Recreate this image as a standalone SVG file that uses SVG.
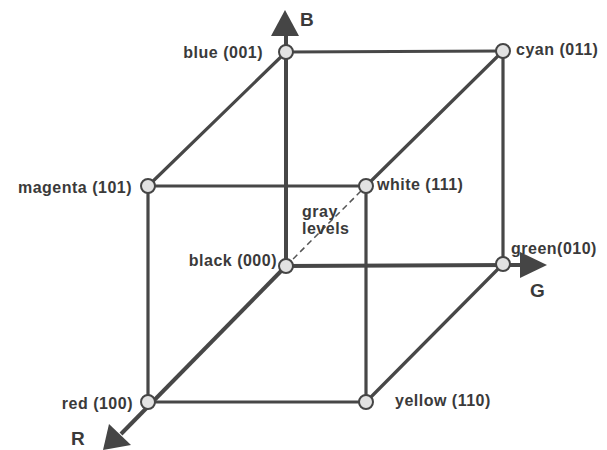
<svg xmlns="http://www.w3.org/2000/svg" width="607" height="450" viewBox="0 0 607 450">
<style>
.edge{stroke:#474747;stroke-width:3.2;fill:none;stroke-linecap:round}
.axis{stroke:#474747;stroke-width:4;fill:none}
.dash{stroke:#555;stroke-width:1.5;stroke-dasharray:6,4;fill:none}
.node circle{fill:#e2e2e2;stroke:#454545;stroke-width:2}
.lbl{font-family:"Liberation Sans",Arial,sans-serif;font-weight:bold;font-size:16px;fill:#3a3a3a;letter-spacing:0.5px}
.ax{font-family:"Liberation Sans",Arial,sans-serif;font-weight:bold;font-size:19px;fill:#3a3a3a}
.head{fill:#454545}
</style>
<rect width="607" height="450" fill="#ffffff"/>
<g id="connectors">
<line class="edge" x1="286" y1="52" x2="503" y2="51"/>
<line class="edge" x1="286" y1="52" x2="148" y2="186"/>
<line class="edge" x1="503" y1="51" x2="366" y2="186"/>
<line class="edge" x1="503" y1="51" x2="503" y2="264"/>
<line class="edge" x1="148" y1="186" x2="366" y2="186"/>
<line class="edge" x1="148" y1="186" x2="148" y2="402"/>
<line class="edge" x1="366" y1="186" x2="366" y2="402"/>
<line class="edge" x1="503" y1="264" x2="366" y2="402"/>
<line class="edge" x1="148" y1="402" x2="366" y2="402"/>
<line class="dash" x1="286" y1="266" x2="366" y2="186"/>
<line class="axis" x1="286" y1="268" x2="286" y2="32"/>
<line class="axis" x1="286" y1="266" x2="522" y2="265"/>
<line class="axis" x1="286" y1="266" x2="121" y2="434"/>
<polygon class="head" points="285,10 271,36 299,36"/>
<polygon class="head" points="547,265 520,252 520,278"/>
<polygon class="head" points="103,450 109,424 131,445"/>
</g>
<g id="blue" class="node"><circle cx="286" cy="52" r="7"/><text class="lbl" x="263" y="58" text-anchor="end">blue (001)</text></g>
<g id="cyan" class="node"><circle cx="503" cy="51" r="7"/><text class="lbl" x="516" y="55">cyan (011)</text></g>
<g id="magenta" class="node"><circle cx="148" cy="186" r="7"/><text class="lbl" x="132" y="193" text-anchor="end">magenta (101)</text></g>
<g id="white" class="node"><circle cx="366" cy="186" r="7"/><text class="lbl" x="377" y="190">white (111)</text></g>
<g id="black" class="node"><circle cx="286" cy="266" r="7"/><text class="lbl" x="277" y="266" text-anchor="end">black (000)</text></g>
<g id="green" class="node"><circle cx="503" cy="264" r="7"/><text class="lbl" x="511" y="254">green(010)</text></g>
<g id="red" class="node"><circle cx="148" cy="402" r="7"/><text class="lbl" x="133" y="409" text-anchor="end">red (100)</text></g>
<g id="yellow" class="node"><circle cx="366" cy="402" r="7"/><text class="lbl" x="395" y="406">yellow (110)</text></g>
<g id="gray-levels"><text class="lbl" x="302" y="217">gray</text><text class="lbl" x="302" y="234">levels</text></g>
<g id="axis-labels"><text class="ax" x="300" y="26">B</text><text class="ax" x="530" y="297">G</text><text class="ax" x="71" y="445">R</text></g>
</svg>
